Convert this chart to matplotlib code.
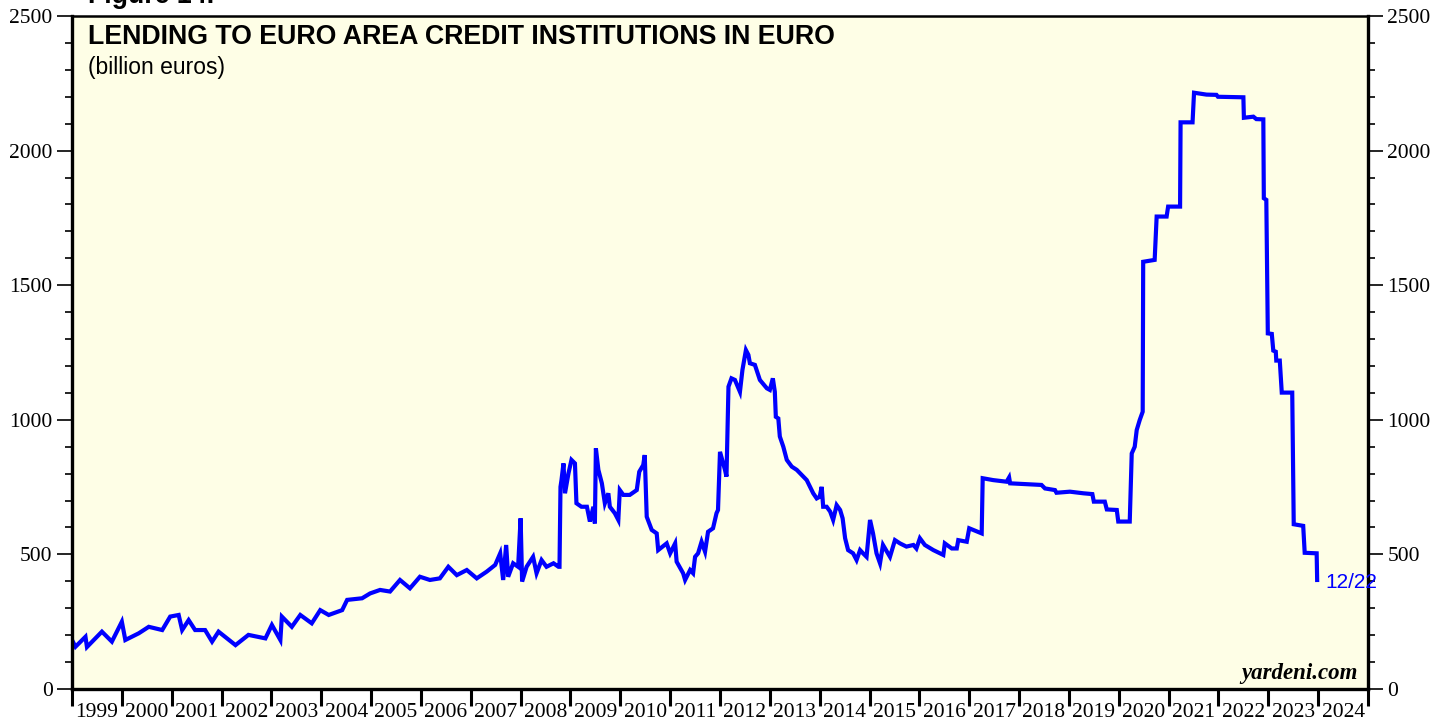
import matplotlib
matplotlib.use('Agg')
import matplotlib.pyplot as plt
from matplotlib.ticker import MultipleLocator, FixedLocator, NullFormatter

# fechas en años decimales y valores en miles de millones de euros
fechas = [
    1999.00, 1999.07, 1999.27, 1999.30, 1999.60, 1999.80, 2000.00, 2000.07,
    2000.34, 2000.54, 2000.81, 2000.97, 2001.14, 2001.21, 2001.34, 2001.47,
    2001.67, 2001.81, 2001.94, 2002.28, 2002.54, 2002.88, 2003.01, 2003.18,
    2003.21, 2003.41, 2003.58, 2003.81, 2003.98, 2004.15, 2004.42, 2004.52,
    2004.82, 2004.98, 2005.18, 2005.38, 2005.58, 2005.78, 2005.98, 2006.18,
    2006.38, 2006.55, 2006.72, 2006.92, 2007.12, 2007.32, 2007.49, 2007.59,
    2007.65, 2007.71, 2007.75, 2007.85, 2007.95, 2008.00, 2008.03, 2008.12,
    2008.25, 2008.32, 2008.42, 2008.52, 2008.66, 2008.76, 2008.78, 2008.80,
    2008.82, 2008.86, 2008.89, 2008.96, 2009.02, 2009.09, 2009.12, 2009.22,
    2009.33, 2009.39, 2009.46, 2009.49, 2009.51, 2009.56, 2009.63, 2009.69,
    2009.76, 2009.79, 2009.89, 2009.96, 2009.99, 2010.06, 2010.19, 2010.33,
    2010.38, 2010.46, 2010.49, 2010.53, 2010.63, 2010.73, 2010.76, 2010.93,
    2011.00, 2011.10, 2011.13, 2011.26, 2011.30, 2011.40, 2011.46, 2011.50,
    2011.56, 2011.63, 2011.70, 2011.76, 2011.86, 2011.93, 2011.96, 2012.00,
    2012.10, 2012.13, 2012.17, 2012.23, 2012.30, 2012.40, 2012.45, 2012.52,
    2012.57, 2012.60, 2012.70, 2012.80, 2012.94, 2013.00, 2013.06, 2013.10,
    2013.12, 2013.17, 2013.20, 2013.27, 2013.34, 2013.44, 2013.54, 2013.64,
    2013.74, 2013.87, 2013.94, 2014.00, 2014.04, 2014.07, 2014.14, 2014.21,
    2014.27, 2014.34, 2014.41, 2014.46, 2014.51, 2014.57, 2014.67, 2014.74,
    2014.81, 2014.87, 2014.94, 2015.01, 2015.07, 2015.14, 2015.21, 2015.27,
    2015.41, 2015.51, 2015.61, 2015.74, 2015.88, 2015.94, 2016.01, 2016.11,
    2016.28, 2016.48, 2016.51, 2016.65, 2016.75, 2016.78, 2016.95, 2017.00,
    2017.08, 2017.25, 2017.27, 2017.48, 2017.75, 2017.80, 2017.82, 2018.15,
    2018.45, 2018.52, 2018.72, 2018.75, 2019.02, 2019.29, 2019.47, 2019.50,
    2019.72, 2019.76, 2019.96, 2019.99, 2020.22, 2020.26, 2020.32, 2020.36,
    2020.42, 2020.48, 2020.49, 2020.72, 2020.76, 2020.96, 2020.99, 2021.23,
    2021.24, 2021.48, 2021.51, 2021.76, 2021.96, 2021.99, 2022.50, 2022.51,
    2022.70, 2022.76, 2022.90, 2022.91, 2022.96, 2022.99, 2023.07, 2023.10,
    2023.15, 2023.16, 2023.23, 2023.27, 2023.48, 2023.51, 2023.70, 2023.73,
    2023.97, 2023.98,
]
prestamos = [
    182, 157, 194, 156, 213, 176, 250, 182,
    207, 231, 219, 269, 275, 219, 256, 219,
    219, 176, 213, 163, 201, 188, 238, 182,
    269, 231, 275, 244, 293, 275, 293, 331,
    337, 355, 368, 362, 405, 374, 417, 405,
    411, 454, 423, 442, 411, 436, 461, 504,
    405, 535, 417, 467, 454, 634, 399, 454,
    491, 430, 479, 454, 467, 454, 454, 751,
    776, 838, 727, 801, 851, 838, 690, 677,
    677, 622, 677, 615, 894, 814, 764, 690,
    727, 677, 653, 628, 739, 721, 721, 739,
    807, 832, 869, 640, 591, 578, 516, 541,
    504, 541, 473, 430, 405, 442, 430, 491,
    504, 547, 510, 584, 597, 653, 665, 881,
    814, 789, 1123, 1154, 1148, 1104, 1185, 1259,
    1241, 1210, 1204, 1148, 1117, 1111, 1154, 1104,
    1011, 1005, 938, 900, 851, 826, 814, 795,
    776, 727, 708, 714, 751, 677, 677, 659,
    628, 683, 665, 634, 560, 516, 504, 479,
    516, 504, 491, 628, 578, 504, 467, 535,
    491, 553, 541, 529, 535, 522, 560, 535,
    516, 498, 541, 522, 522, 553, 547, 597,
    591, 578, 783, 776, 770, 786, 764, 761,
    758, 745, 739, 729, 733, 727, 724, 696,
    696, 667, 665, 622, 622, 875, 900, 962,
    999, 1030, 1587, 1594, 1755, 1755, 1792, 1792,
    2105, 2105, 2215, 2208, 2207, 2200, 2198, 2122,
    2126, 2117, 2116, 1823, 1817, 1321, 1319, 1257,
    1253, 1220, 1220, 1101, 1101, 612, 606, 506,
    504, 405,
]
anios = list(range(1999, 2025))
ultima_fecha = '12/22'

serif = 'Liberation Serif'
sans = 'Liberation Sans'

fig = plt.figure(figsize=(14.52, 7.23), dpi=100)
fig.set_facecolor('w')
ax = fig.add_axes([72 / 1452, 1 - 689 / 723, 1296 / 1452, 673 / 723])
ax.set_facecolor('#fefee6')

ax.plot(fechas, prestamos, color='#0000ff', linewidth=3, solid_joinstyle='miter')
ax.set_xlim(1999, 2025)
ax.set_ylim(0, 2500)

# Bordes
for lado in ax.spines.values():
    lado.set_linewidth(2.4)
    lado.set_color('k')
ax.spines['top'].set_linewidth(1.8)

# Eje x: marcas en los cambios de año, rótulos a mitad de año
ax.xaxis.set_major_locator(FixedLocator(list(range(1999, 2026))))
ax.xaxis.set_major_formatter(NullFormatter())
ax.xaxis.set_minor_locator(FixedLocator([a + 0.5 for a in anios]))
ax.set_xticklabels([str(a) for a in anios], minor=True)
ax.tick_params(axis='x', which='major', direction='out', length=12, width=2.2)
ax.tick_params(axis='x', which='minor', length=0, pad=10, labelsize=15.5)

# Eje y a ambos lados
ax.yaxis.set_major_locator(MultipleLocator(500))
ax.yaxis.set_minor_locator(MultipleLocator(100))
ax.tick_params(axis='y', which='both', left=True, right=True,
               labelleft=True, labelright=True, direction='out')
ax.tick_params(axis='y', which='major', length=11, width=1.2, labelsize=15.5, pad=3)
ax.tick_params(axis='y', which='minor', length=5, width=1.2)
for t in ax.get_xticklabels(minor=True) + ax.get_yticklabels():
    t.set_fontfamily(serif)

# Textos
ax.text(0.012, 0.988, 'LENDING TO EURO AREA CREDIT INSTITUTIONS IN EURO',
        transform=ax.transAxes, fontsize=19.3, fontweight='bold',
        family=sans, va='top', ha='left')
ax.text(0.012, 0.94, '(billion euros)', transform=ax.transAxes,
        fontsize=16.5, family=sans, va='top', ha='left')
ax.text(0.992, 0.007, 'yardeni.com', transform=ax.transAxes, fontsize=16.5,
        fontweight='bold', fontstyle='italic', family=serif,
        ha='right', va='bottom')
ax.annotate(ultima_fecha, xy=(fechas[-1], prestamos[-1]), xytext=(6, -2),
            textcoords='offset points', color='#0000ff', fontsize=15,
            family=sans, ha='left', va='center', annotation_clip=False)
fig.text(88 / 1452, 1 - 3 / 723, 'Figure 14.', fontsize=19.3, fontweight='bold',
         family=sans, ha='left', va='baseline')

fig.savefig('out.png', dpi=100, facecolor='w')
